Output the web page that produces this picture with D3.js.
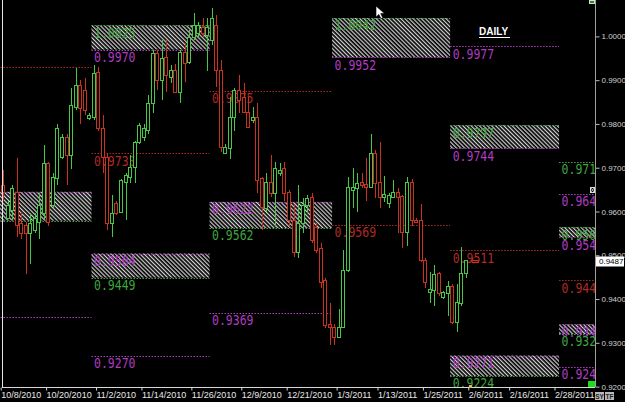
<!DOCTYPE html>
<html>
<head>
<meta charset="utf-8">
<script src="https://cdnjs.cloudflare.com/ajax/libs/d3/7.8.5/d3.min.js"></script>
<style>
  html, body { margin: 0; padding: 0; background: #000; overflow: hidden; }
  svg { display: block; }
</style>
</head>
<body>
<svg id="chartSVG"></svg>
<script>
// daily candles, one per trading day (Sun-Fri), day 0 = 10/8/2010
let open = [0.9660,0.9585,0.9602,0.9643,0.9573,0.9568,0.9550,0.9557,0.9575,0.9596,
            0.9710,0.9614,0.9675,0.9723,0.9769,0.9728,0.9838,0.9888,0.9877,0.9813,
            0.9815,0.9918,0.9790,0.9723,0.9573,0.9618,0.9598,0.9666,0.9678,0.9700,
            0.9758,0.9769,0.9785,0.9847,0.9961,0.9900,0.9952,0.9906,0.9922,0.9872,
            0.9964,0.9941,0.9998,1.0007,1.0021,1.0002,0.9991,1.0025,0.9922,0.9733,
            0.9744,0.9815,0.9877,0.9861,0.9826,0.9808,0.9815,0.9675,0.9607,0.9666,
            0.9641,0.9687,0.9698,0.9643,0.9580,0.9506,0.9573,0.9614,0.9632,0.9564,
            0.9516,0.9442,0.9342,0.9335,0.9312,0.9335,0.9465,0.9648,0.9653,0.9666,
            0.9662,0.9655,0.9733,0.9666,0.9632,0.9618,0.9632,0.9643,0.9634,0.9552,
            0.9666,0.9580,0.9580,0.9488,0.9415,0.9419,0.9458,0.9404,0.9413,0.9429,
            0.9346,0.9390,0.9458];
let high = [0.9694,0.9625,0.9660,0.9723,0.9596,0.9575,0.9596,0.9596,0.9643,0.9751,
            0.9714,0.9687,0.9801,0.9778,0.9778,0.9881,0.9927,0.9900,0.9906,0.9826,
            0.9934,0.9929,0.9820,0.9733,0.9637,0.9625,0.9675,0.9689,0.9728,0.9762,
            0.9803,0.9801,0.9865,0.9968,0.9968,0.9991,0.9991,0.9934,0.9938,0.9968,
            0.9984,1.0014,1.0053,1.0032,1.0043,1.0041,1.0064,1.0048,0.9945,0.9755,
            0.9861,0.9881,0.9911,0.9893,0.9861,0.9838,0.9847,0.9678,0.9689,0.9728,
            0.9712,0.9710,0.9712,0.9648,0.9618,0.9660,0.9630,0.9637,0.9643,0.9573,
            0.9527,0.9447,0.9392,0.9344,0.9378,0.9511,0.9678,0.9700,0.9687,0.9689,
            0.9723,0.9778,0.9740,0.9758,0.9682,0.9643,0.9671,0.9653,0.9637,0.9678,
            0.9675,0.9586,0.9618,0.9493,0.9461,0.9477,0.9461,0.9419,0.9442,0.9435,
            0.9435,0.9518,0.9488];
let low = [0.9625,0.9583,0.9580,0.9541,0.9538,0.9458,0.9481,0.9550,0.9538,0.9580,
           0.9568,0.9607,0.9660,0.9721,0.9660,0.9698,0.9831,0.9801,0.9820,0.9808,
           0.9808,0.9785,0.9687,0.9557,0.9541,0.9591,0.9596,0.9580,0.9664,0.9664,
           0.9755,0.9762,0.9778,0.9824,0.9877,0.9854,0.9872,0.9893,0.9870,0.9847,
           0.9895,0.9938,0.9991,0.9998,0.9998,0.9922,0.9980,0.9884,0.9735,0.9733,
           0.9721,0.9785,0.9824,0.9824,0.9790,0.9803,0.9643,0.9557,0.9598,0.9632,
           0.9564,0.9682,0.9625,0.9564,0.9495,0.9493,0.9550,0.9596,0.9527,0.9506,
           0.9426,0.9335,0.9294,0.9294,0.9310,0.9333,0.9461,0.9607,0.9598,0.9653,
           0.9625,0.9653,0.9630,0.9607,0.9621,0.9609,0.9630,0.9552,0.9516,0.9522,
           0.9568,0.9573,0.9484,0.9426,0.9392,0.9385,0.9408,0.9401,0.9362,0.9344,
           0.9324,0.9385,0.9449];
let close = [0.9643,0.9614,0.9653,0.9568,0.9550,0.9550,0.9573,0.9584,0.9614,0.9710,
             0.9575,0.9678,0.9790,0.9769,0.9728,0.9842,0.9888,0.9835,0.9831,0.9820,
             0.9916,0.9790,0.9723,0.9573,0.9596,0.9596,0.9671,0.9682,0.9700,0.9758,
             0.9797,0.9790,0.9847,0.9961,0.9900,0.9950,0.9911,0.9922,0.9872,0.9964,
             0.9938,0.9998,1.0025,1.0025,1.0007,1.0021,1.0041,0.9922,0.9746,0.9746,
             0.9815,0.9877,0.9854,0.9826,0.9792,0.9815,0.9671,0.9609,0.9666,0.9641,
             0.9698,0.9694,0.9641,0.9580,0.9506,0.9573,0.9614,0.9630,0.9534,0.9511,
             0.9438,0.9340,0.9335,0.9312,0.9335,0.9465,0.9655,0.9655,0.9664,0.9660,
             0.9655,0.9733,0.9664,0.9632,0.9639,0.9637,0.9643,0.9632,0.9552,0.9666,
             0.9580,0.9575,0.9488,0.9438,0.9422,0.9456,0.9413,0.9415,0.9429,0.9346,
             0.9392,0.9458,0.9487];

let lastPrice = 0.9487;

// date axis
let tickDay = [0, 10, 21, 31, 42, 53, 63, 74, 83, 93, 103, 112, 122];
let tickLabel = ["10/8/2010", "10/20/2010", "11/2/2010", "11/14/2010", "11/26/2010", "12/9/2010",
                 "12/21/2010", "1/3/2011", "1/13/2011", "1/25/2011", "2/6/2011", "2/16/2011", "2/28/2011"];

// price axis
let priceTicks = [0.92, 0.93, 0.94, 0.95, 0.96, 0.97, 0.98, 0.99, 1.00];

// monthly pivot zones (first trading day of each month)
let zoneMonth = ["Oct", "Nov", "Dec", "Jan", "Feb", "Mar"];
let zoneStart = [-6, 20, 46, 73, 99, 123];
let zoneEnd   = [20, 46, 73, 99, 123, 135];

// hatched boxes
let boxZone   = [0, 1, 1, 2, 3, 4, 4, 5, 5];
let boxTop    = [0.9645, 1.0025, 0.9504, 0.9622, 1.0042, 0.9797, 0.9271, 0.9564, 0.9342];
let boxBottom = [0.9579, 0.9970, 0.9449, 0.9562, 0.9952, 0.9744, 0.9224, 0.9541, 0.9320];

// level lines: outer (green), inner (magenta), pivot (red)
let lvlZone  = [0,0,0,0, 1,1,1,1,1,1, 2,2,2,2, 3,3,3, 4,4,4,4,4,4, 5,5,5,5,5,5,5,5];
let lvlPrice = [0.9931,0.9645,0.9579,0.9360,
                1.0025,0.9970,0.9733,0.9504,0.9449,0.9270,
                0.9875,0.9622,0.9562,0.9369,
                1.0042,0.9952,0.9569,
                0.9977,0.9797,0.9744,0.9511,0.9271,0.9224,
                0.9714,0.9640,0.9564,0.9541,0.9443,0.9342,0.9320,0.9245];
let lvlKind  = ["pivot","inner","outer","inner",
                "outer","inner","pivot","inner","outer","inner",
                "pivot","inner","outer","inner",
                "outer","inner","pivot",
                "inner","outer","inner","pivot","inner","outer",
                "outer","inner","outer","inner","pivot","inner","outer","inner"];

let widthSVG = 625;
let heightSVG = 402;
let plot = { left: 0, right: 595, top: 0, bottom: 387 };

let kindColor = { outer: '#3fa53f', inner: '#b03cc0', pivot: '#b02a24' };
let upColor = '#46c846';
let downColor = '#c8321e';

let SVG = d3.select('svg#chartSVG')
            .attr('width', widthSVG)
            .attr('height', heightSVG)
            .style('background', '#000');

let x = d3.scaleLinear().domain([0, 131]).range([0.7, 595.4]);
let y = d3.scaleLinear().domain([0.92, 1.0]).range([386.6, 36.4]);

let defs = SVG.append('defs');
defs.append('clipPath').attr('id', 'plotClip')
    .append('rect')
    .attr('x', plot.left).attr('y', plot.top)
    .attr('width', plot.right - plot.left).attr('height', plot.bottom - plot.top);

let pat = defs.append('pattern')
              .attr('id', 'hatch')
              .attr('patternUnits', 'userSpaceOnUse')
              .attr('width', 2.9).attr('height', 2.9)
              .attr('patternTransform', 'rotate(-45)');
pat.append('line')
   .attr('x1', 0.6).attr('y1', 0).attr('x2', 0.6).attr('y2', 2.9)
   .attr('stroke', '#d4d4d4').attr('stroke-width', 1.25);

let G = SVG.append('g').attr('clip-path', 'url(#plotClip)');

// hatched boxes
G.append('g').selectAll('rect')
  .data(boxZone)
  .enter()
  .append('rect')
  .attr('x', d => x(zoneStart[d]))
  .attr('width', d => x(zoneEnd[d]) - x(zoneStart[d]))
  .attr('y', (d, i) => y(boxTop[i]))
  .attr('height', (d, i) => y(boxBottom[i]) - y(boxTop[i]))
  .style('fill', 'url(#hatch)');

// level lines
G.append('g').selectAll('line')
  .data(lvlZone)
  .enter()
  .append('line')
  .attr('x1', d => x(zoneStart[d]))
  .attr('x2', d => x(zoneEnd[d]))
  .attr('y1', (d, i) => Math.round(y(lvlPrice[i])) + 0.5)
  .attr('y2', (d, i) => Math.round(y(lvlPrice[i])) + 0.5)
  .style('stroke', (d, i) => kindColor[lvlKind[i]])
  .style('stroke-width', 1)
  .style('stroke-dasharray', '1.5,1.5');

// level labels, just under each line (the label sits at the zone start, so
// zones that begin left of the chart show no label)
let lvlIdx = d3.range(lvlZone.length).filter(i => x(zoneStart[lvlZone[i]]) >= 0);
G.append('g').selectAll('text')
  .data(lvlIdx)
  .enter()
  .append('text')
  .attr('transform', i => `translate(${x(zoneStart[lvlZone[i]]) + 2.5}, ${y(lvlPrice[i]) + 12.3}) scale(1, 1.22)`)
  .text(i => d3.format('.4f')(lvlPrice[i]))
  .style('font-family', '"DejaVu Sans Mono", monospace')
  .style('font-size', '11.5px')
  .style('fill', i => kindColor[lvlKind[i]]);

// candles
let candles = G.append('g').selectAll('g.candle')
  .data(open)
  .enter()
  .append('g')
  .classed('candle', true)
  .style('shape-rendering', 'crispEdges');

let cx = i => Math.round(x(i + 0.5));
let col = i => close[i] >= open[i] ? upColor : downColor;

candles.append('line')
  .attr('x1', (d, i) => cx(i)).attr('x2', (d, i) => cx(i))
  .attr('y1', (d, i) => y(high[i]))
  .attr('y2', (d, i) => y(low[i]))
  .style('stroke', (d, i) => col(i));

candles.append('rect')
  .attr('x', (d, i) => cx(i) - 1.5)
  .attr('width', 3)
  .attr('y', (d, i) => y(Math.max(open[i], close[i])))
  .attr('height', (d, i) => Math.max(1, y(Math.min(open[i], close[i])) - y(Math.max(open[i], close[i]))))
  .style('fill', '#000')
  .style('stroke', (d, i) => col(i));

// frame lines
SVG.append('line')
   .attr('x1', 2.5).attr('x2', 2.5).attr('y1', 0).attr('y2', plot.bottom)
   .style('stroke', '#e6e6e6');
SVG.append('line')
   .attr('x1', 2).attr('x2', plot.right).attr('y1', plot.bottom + 0.5).attr('y2', plot.bottom + 0.5)
   .style('stroke', '#d8d8d8');

// date axis
let xAxis = d3.axisBottom(x)
              .tickValues(tickDay)
              .tickSize(3)
              .tickSizeOuter(0)
              .tickFormat((d, i) => tickLabel[i]);

let xAxisG = SVG.append('g')
   .attr('transform', `translate(0, ${plot.bottom + 0.5})`)
   .call(xAxis);
xAxisG.select('.domain').remove();
xAxisG.selectAll('line').style('stroke', '#d8d8d8');
xAxisG.selectAll('text')
      .attr('y', 4.5)
      .attr('dy', '0.71em')
      .style('text-anchor', 'start')
      .style('fill', '#e8e8e8')
      .style('font-family', 'Arial, "Liberation Sans", sans-serif')
      .style('font-size', '9px');

// price axis
let yAxis = d3.axisRight(y)
              .tickValues(priceTicks)
              .tickSize(4)
              .tickSizeOuter(0)
              .tickPadding(2)
              .tickFormat(d3.format('.4f'));

let yAxisG = SVG.append('g')
   .attr('transform', `translate(${plot.right + 0.5}, 0)`)
   .call(yAxis);
yAxisG.select('.domain').remove();
yAxisG.selectAll('line').style('stroke', '#bbbbbb');
yAxisG.selectAll('text')
      .style('fill', '#d0d0d0')
      .style('font-family', 'Arial, "Liberation Sans", sans-serif')
      .style('font-size', '8px');

SVG.append('line')
   .attr('x1', plot.right + 0.5).attr('x2', plot.right + 0.5).attr('y1', 0).attr('y2', plot.bottom)
   .style('stroke', '#a0a0a0');

// last price box
let lpY = y(lastPrice);
SVG.append('rect')
   .attr('x', 596).attr('y', Math.round(lpY) - 4.5)
   .attr('width', 28).attr('height', 10)
   .style('fill', '#fff');
SVG.append('text')
   .attr('x', 599).attr('y', lpY + 3.5)
   .text(d3.format('.4f')(lastPrice))
   .style('fill', '#000')
   .style('font-family', 'Arial, "Liberation Sans", sans-serif')
   .style('font-size', '8px');

// small markers on the right edge
SVG.append('rect').attr('x', 589.5).attr('y', 0.5).attr('width', 5).attr('height', 3)
   .style('fill', '#2a8a2a').style('stroke', '#ddd');
SVG.append('rect').attr('x', 590.5).attr('y', 187.5).attr('width', 4).attr('height', 5)
   .style('fill', '#000').style('stroke', '#ddd');
SVG.append('path').attr('d', 'M591,188 L594,192 M594,188 L591,192')
   .style('stroke', '#ddd').style('stroke-width', 0.8);
SVG.append('rect').attr('x', 588).attr('y', 381).attr('width', 7).attr('height', 6)
   .style('fill', '#18e018');
SVG.append('rect').attr('x', 469).attr('y', 385).attr('width', 3).attr('height', 3)
   .style('fill', '#d8b860');

// arrow next to the current pivot
SVG.append('path')
   .attr('d', 'M479,260.5 L471,260.5 M474,257.5 L471,260.5 L474,263.5 M479,262.5 L472,262.5')
   .style('stroke', downColor).style('fill', 'none');

// timeframe title
SVG.append('text')
   .attr('x', 479).attr('y', 35)
   .text('DAILY')
   .style('fill', '#fff')
   .style('font-family', 'Arial, "Liberation Sans", sans-serif')
   .style('font-weight', 'bold')
   .style('font-size', '10px');
SVG.append('line')
   .attr('x1', 479).attr('x2', 510).attr('y1', 37.5).attr('y2', 37.5)
   .style('stroke', '#fff');

// mouse pointer
SVG.append('path')
   .attr('d', 'M376,6 L376,17 L378.8,14.4 L381,18.6 L382.8,17.7 L380.7,13.6 L384.5,13.6 Z')
   .style('fill', '#fff').style('stroke', '#000').style('stroke-width', 0.6);

// SY / TF buttons
let btns = ['SY', 'TF'];
SVG.selectAll('g.btn')
   .data(btns)
   .enter()
   .append('g')
   .classed('btn', true)
   .attr('transform', (d, i) => `translate(${595 + i * 10}, 392)`)
   .each(function(d) {
     d3.select(this).append('rect')
       .attr('width', 9).attr('height', 8)
       .style('fill', '#b8b8b8');
     d3.select(this).append('text')
       .attr('x', 4.5).attr('y', 6.5)
       .text(d)
       .style('text-anchor', 'middle')
       .style('fill', '#202020')
       .style('font-family', 'Arial, "Liberation Sans", sans-serif')
       .style('font-weight', 'bold')
       .style('font-size', '6.5px');
   });
</script>
</body>
</html>
